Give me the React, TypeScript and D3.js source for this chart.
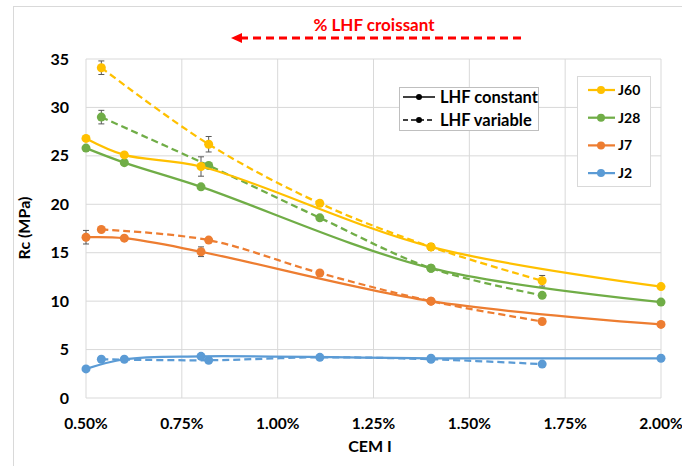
import React from 'react';
import * as d3 from 'd3';

// CEM I content (%) for each test series
const xConstant = [0.5, 0.6, 0.8, 1.4, 2.0];
const xVariable = [0.54, 0.82, 1.11, 1.4, 1.69];

const seriesNames = ['J60', 'J28', 'J7', 'J2'];
const seriesColors = ['#FFC000', '#70AD47', '#ED7D31', '#5B9BD5'];

// Rc (MPa) - LHF constant
const j60Constant = [26.8, 25.1, 23.9, 15.6, 11.5];
const j28Constant = [25.8, 24.3, 21.8, 13.4, 9.9];
const j7Constant = [16.6, 16.5, 15.1, 10.0, 7.6];
const j2Constant = [3.0, 4.0, 4.3, 4.1, 4.1];

// Rc (MPa) - LHF variable
const j60Variable = [34.1, 26.2, 20.1, 15.6, 12.1];
const j28Variable = [29.0, 24.0, 18.6, 13.4, 10.6];
const j7Variable = [17.4, 16.3, 12.9, 10.0, 7.9];
const j2Variable = [4.0, 3.9, 4.2, 4.0, 3.5];

// standard deviation (error bars), 0 = none drawn
const j60ConstantErr = [0, 0, 1.0, 0.3, 0];
const j7ConstantErr = [0.7, 0, 0.5, 0, 0];
const j60VariableErr = [0.7, 0.8, 0.3, 0.3, 0.55];
const j28VariableErr = [0.7, 0, 0, 0, 0];

const xTicks = [0.5, 0.75, 1.0, 1.25, 1.5, 1.75, 2.0];
const yTicks = [0, 5, 10, 15, 20, 25, 30, 35];

const font = 'Lato, "Open Sans", sans-serif';

type Pt = { x: number; y: number; e: number };

function zip(xs: number[], ys: number[], errs?: number[]): Pt[] {
  return xs.map((x, i) => ({ x, y: ys[i], e: errs ? errs[i] : 0 }));
}

export default function App() {
  const width = 682;
  const height = 466;
  const margin = { left: 86, right: 21, top: 59, bottom: 68 };

  const x = d3.scaleLinear().domain([0.5, 2.0]).range([margin.left, width - margin.right]);
  const y = d3.scaleLinear().domain([0, 35]).range([height - margin.bottom, margin.top]);

  const line = d3.line<Pt>()
    .x(d => x(d.x))
    .y(d => y(d.y))
    .curve(d3.curveCatmullRom.alpha(0.5));

  const constant = [
    zip(xConstant, j60Constant, j60ConstantErr),
    zip(xConstant, j28Constant),
    zip(xConstant, j7Constant, j7ConstantErr),
    zip(xConstant, j2Constant),
  ];
  const variable = [
    zip(xVariable, j60Variable, j60VariableErr),
    zip(xVariable, j28Variable, j28VariableErr),
    zip(xVariable, j7Variable),
    zip(xVariable, j2Variable),
  ];

  // draw bottom series first so J60 sits on top
  const order = [3, 2, 1, 0];

  const errorBars = (pts: Pt[], key: string) =>
    pts.filter(d => d.e > 0).map((d, i) => (
      <g key={key + i} stroke="#595959" strokeWidth={1}>
        <line x1={x(d.x)} x2={x(d.x)} y1={y(d.y - d.e)} y2={y(d.y + d.e)} />
        <line x1={x(d.x) - 3} x2={x(d.x) + 3} y1={y(d.y - d.e)} y2={y(d.y - d.e)} />
        <line x1={x(d.x) - 3} x2={x(d.x) + 3} y1={y(d.y + d.e)} y2={y(d.y + d.e)} />
      </g>
    ));

  const legendItems = seriesNames.map((name, i) => ({ name, color: seriesColors[i] }));

  return (
    <svg width={width} height={height} style={{ position: 'absolute', left: 0, top: 0, background: '#fff' }}>
      {/* chart frame */}
      <rect x={13.5} y={6.5} width={width + 20} height={height + 20} fill="none" stroke="#d9d9d9" />

      {/* gridlines */}
      {yTicks.map(t => (
        <line key={'gy' + t} x1={margin.left} x2={width - margin.right} y1={y(t)} y2={y(t)}
          stroke="#d9d9d9" strokeWidth={1} />
      ))}
      {xTicks.map(t => (
        <line key={'gx' + t} x1={x(t)} x2={x(t)} y1={margin.top} y2={height - margin.bottom}
          stroke="#d9d9d9" strokeWidth={1} />
      ))}

      {/* tick labels */}
      {yTicks.map(t => (
        <text key={'ty' + t} x={69} y={y(t)} dy="0.35em" textAnchor="end"
          fontFamily={font} fontWeight="bold" fontSize={16} fill="#000">{t}</text>
      ))}
      {xTicks.map(t => (
        <text key={'tx' + t} x={x(t)} y={424} dy="0.35em" textAnchor="middle"
          fontFamily={font} fontWeight="bold" fontSize={15.5} fill="#000">{t.toFixed(2) + '%'}</text>
      ))}

      {/* axis titles */}
      <text x={370} y={446} dy="0.35em" textAnchor="middle" fontFamily={font} fontWeight="bold"
        fontSize={16} fill="#000">CEM I</text>
      <text transform="translate(24,228) rotate(-90)" dy="0.35em" textAnchor="middle" fontFamily={font}
        fontWeight="bold" fontSize={16} fill="#000">Rc (MPa)</text>

      {/* LHF variable (dashed) */}
      {order.map(i => (
        <g key={'v' + i}>
          {errorBars(variable[i], 'ev' + i)}
          <path d={line(variable[i]) || ''} fill="none" stroke={seriesColors[i]} strokeWidth={2.25}
            strokeDasharray="7,4" />
          {variable[i].map((d, k) => (
            <circle key={k} cx={x(d.x)} cy={y(d.y)} r={4.5} fill={seriesColors[i]} />
          ))}
        </g>
      ))}

      {/* LHF constant (solid) */}
      {order.map(i => (
        <g key={'c' + i}>
          {errorBars(constant[i], 'ec' + i)}
          <path d={line(constant[i]) || ''} fill="none" stroke={seriesColors[i]} strokeWidth={2.25} />
          {constant[i].map((d, k) => (
            <circle key={k} cx={x(d.x)} cy={y(d.y)} r={4.5} fill={seriesColors[i]} />
          ))}
        </g>
      ))}

      {/* LHF legend */}
      <g>
        <rect x={399.5} y={87.5} width={139} height={43} fill="#fff" stroke="#bfbfbf" />
        <line x1={403} x2={435} y1={97} y2={97} stroke="#000" strokeWidth={1.5} />
        <circle cx={419} cy={97} r={3} fill="#000" />
        <text x={440} y={97} dy="0.35em" fontFamily={font} fontWeight="bold" fontSize={16.5} fill="#000">LHF constant</text>
        <line x1={403} x2={435} y1={120} y2={120} stroke="#000" strokeWidth={1.5} strokeDasharray="5,3" />
        <circle cx={419} cy={120} r={3} fill="#000" />
        <text x={440} y={120} dy="0.35em" fontFamily={font} fontWeight="bold" fontSize={16.5} fill="#000">LHF variable</text>
      </g>

      {/* series legend */}
      <g>
        <rect x={577.5} y={76.5} width={73} height={110} fill="#fff" stroke="#d9d9d9" />
        {legendItems.map((d, i) => (
          <g key={d.name} transform={`translate(0,${90 + i * 27.7})`}>
            <line x1={588} x2={615} y1={0} y2={0} stroke={d.color} strokeWidth={2.25} />
            <circle cx={601} cy={0} r={4} fill={d.color} />
            <text x={618} y={0} dy="0.35em" fontFamily={font} fontWeight="bold" fontSize={14} fill="#000">{d.name}</text>
          </g>
        ))}
      </g>

      {/* annotation arrow */}
      <text x={374} y={25} dy="0.35em" textAnchor="middle" fontFamily={font} fontWeight="bold"
        fontSize={17} fill="#FF0000">% LHF croissant</text>
      <line x1={240} x2={523} y1={38} y2={38} stroke="#FF0000" strokeWidth={3} strokeDasharray="8,5" />
      <path d="M231,38 L242,33 L242,43 Z" fill="#FF0000" />
    </svg>
  );
}
